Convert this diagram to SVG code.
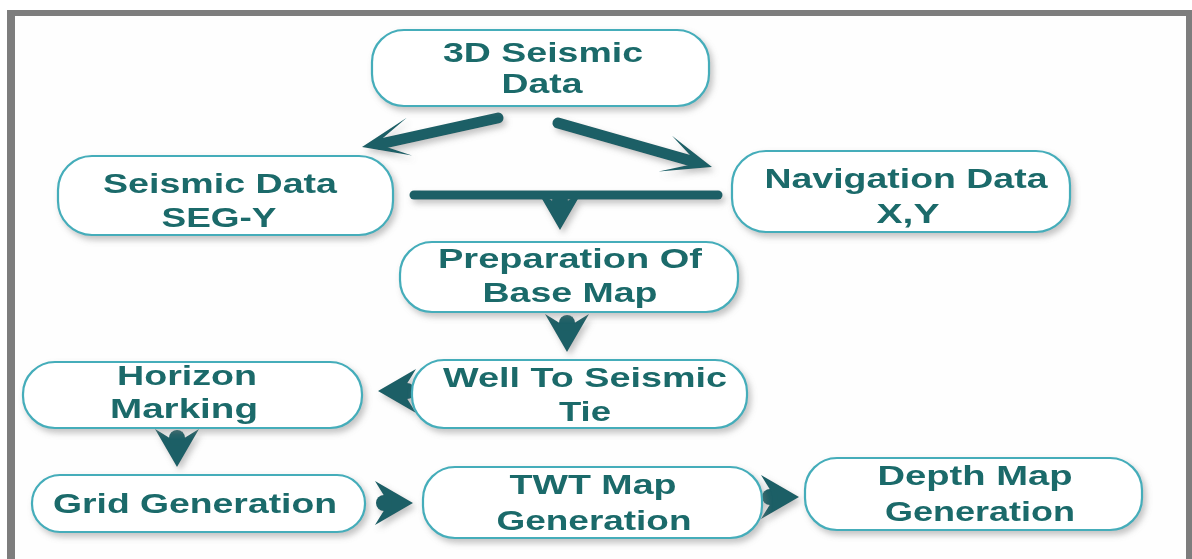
<svg xmlns="http://www.w3.org/2000/svg" xmlns:xlink="http://www.w3.org/1999/xlink" width="1192" height="559" viewBox="0 0 1192 559">
<style>
.box{fill:#ffffff;stroke:#44adba;stroke-width:2.2;filter:url(#sh)}
.t{font-family:"Liberation Sans",Arial,sans-serif;font-weight:bold;font-size:27.5px;fill:#1b6a6a;text-anchor:middle}
.ar{fill:#1b5f66;stroke:none}
.shaft{stroke:#1b5f66;stroke-linecap:round;fill:none}
</style>
<defs>
<filter id="sh" x="-10%" y="-20%" width="125%" height="150%">
<feDropShadow dx="3" dy="4" stdDeviation="3" flood-color="#7a7a7a" flood-opacity="0.45"/>
</filter>
<g id="head"><path d="M0,0 L-38,-22 Q-29,-7 -24,0 Q-29,7 -38,22 Z"/><circle cx="-29" cy="0" r="8"/></g>
<path id="lhead" d="M0,0 L-47,-19 L-22,-4 L-22,4 L-50,19 Z"/>
</defs>
<rect x="0" y="0" width="1192" height="559" fill="#ffffff"/>
<rect x="15" y="16" width="1172" height="543" fill="#fefefe"/>
<g id="frame" fill="#7d7d7d">
<rect x="7" y="10" width="1185" height="6"/>
<rect x="7" y="10" width="8" height="549"/>
<rect x="1186" y="10" width="6" height="549"/>
</g>
<g id="connectors" filter="url(#sh)">
<line class="shaft" x1="498" y1="118" x2="380" y2="144" stroke-width="11"/>
<use href="#lhead" class="ar" transform="translate(362,147) rotate(167.6)"/>
<line class="shaft" x1="558" y1="123" x2="695" y2="162" stroke-width="11"/>
<use href="#lhead" class="ar" transform="translate(712,167) rotate(15.9)"/>
<line class="shaft" x1="414" y1="195" x2="718" y2="195" stroke-width="9" stroke-linecap="butt"/>
<use href="#head" class="ar" transform="translate(560,230) rotate(90)"/>
<use href="#head" class="ar" transform="translate(567,352) rotate(90)"/>
<use href="#head" class="ar" transform="translate(378,391) rotate(180)"/>
<use href="#head" class="ar" transform="translate(177,467) rotate(90)"/>
<use href="#head" class="ar" transform="translate(413,503)"/>
<use href="#head" class="ar" transform="translate(799,497)"/>
</g>
<g id="n1"><rect class="box" x="372" y="30" width="337" height="76" rx="32"/>
<text class="t" x="543" y="62" textLength="200" lengthAdjust="spacingAndGlyphs">3D Seismic</text>
<text class="t" x="542" y="93" textLength="81" lengthAdjust="spacingAndGlyphs">Data</text></g>
<g id="n2"><rect class="box" x="58" y="156" width="335" height="79" rx="34"/>
<text class="t" x="220" y="193" textLength="234" lengthAdjust="spacingAndGlyphs">Seismic Data</text>
<text class="t" x="219" y="227" textLength="115" lengthAdjust="spacingAndGlyphs">SEG-Y</text></g>
<g id="n3"><rect class="box" x="732" y="151" width="338" height="81" rx="34"/>
<text class="t" x="906" y="188" textLength="283" lengthAdjust="spacingAndGlyphs">Navigation Data</text>
<text class="t" x="908" y="223" textLength="63" lengthAdjust="spacingAndGlyphs">X,Y</text></g>
<g id="n4"><rect class="box" x="400" y="242" width="338" height="70" rx="32"/>
<text class="t" x="570" y="268" textLength="264" lengthAdjust="spacingAndGlyphs">Preparation Of</text>
<text class="t" x="570" y="302" textLength="175" lengthAdjust="spacingAndGlyphs">Base Map</text></g>
<g id="n5"><rect class="box" x="412" y="360" width="335" height="68" rx="32"/>
<text class="t" x="585" y="387" textLength="284" lengthAdjust="spacingAndGlyphs">Well To Seismic</text>
<text class="t" x="585" y="421" textLength="52" lengthAdjust="spacingAndGlyphs">Tie</text></g>
<g id="n6"><rect class="box" x="23" y="362" width="339" height="66" rx="32"/>
<text class="t" x="187" y="385" textLength="140" lengthAdjust="spacingAndGlyphs">Horizon</text>
<text class="t" x="184" y="418" textLength="148" lengthAdjust="spacingAndGlyphs">Marking</text></g>
<g id="n7"><rect class="box" x="32" y="475" width="333" height="57" rx="28"/>
<text class="t" x="195" y="513" textLength="284" lengthAdjust="spacingAndGlyphs">Grid Generation</text></g>
<g id="n8"><rect class="box" x="423" y="467" width="339" height="71" rx="32"/>
<text class="t" x="593" y="494" textLength="167" lengthAdjust="spacingAndGlyphs">TWT Map</text>
<text class="t" x="594" y="530" textLength="195" lengthAdjust="spacingAndGlyphs">Generation</text></g>
<g id="n9"><rect class="box" x="805" y="458" width="337" height="72" rx="32"/>
<text class="t" x="975" y="485" textLength="195" lengthAdjust="spacingAndGlyphs">Depth Map</text>
<text class="t" x="980" y="521" textLength="190" lengthAdjust="spacingAndGlyphs">Generation</text></g>
</svg>
